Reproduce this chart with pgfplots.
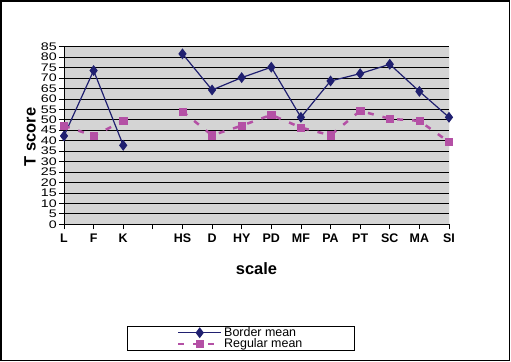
\documentclass[border=0pt]{standalone}
\usepackage{fontspec}
\setmainfont{Liberation Sans}
\usepackage{pgfplots}
\pgfplotsset{compat=1.18}
\definecolor{bord}{RGB}{32,32,112}
\definecolor{regm}{RGB}{180,80,165}
\definecolor{plotbg}{RGB}{212,212,212}
\begin{document}
\begin{tikzpicture}
\useasboundingbox (0bp,0bp) rectangle (511bp,362bp);
\draw[line width=1.5bp] (1bp,1.5bp) rectangle (509.5bp,361bp);
\begin{axis}[
  at={(64bp,137.7bp)}, anchor=south west,
  scale only axis, width=385bp, height=177.6bp,
  xmin=0, xmax=13, ymin=0, ymax=85,
  unbounded coords=jump,
  axis background/.style={fill=plotbg},
  axis x line*=bottom, axis y line*=left,
  x axis line style={-, black, line width=0.9bp},
  y axis line style={-, black, line width=0.9bp},
  xtick={0,...,13},
  xticklabels={L,F,K,,HS,D,HY,PD,MF,PA,PT,SC,MA,SI},
  ytick={0,5,...,85},
  yticklabel={\scalebox{1.3}[1]{\pgfmathprintnumber{\tick}}},
  ymajorgrids, major grid style={black, line width=0.8bp},
  tick align=outside, major tick length=5bp,
  tick style={black, line width=0.8bp},
  /pgf/number format/assume math mode=true,
  x tick label style={font=\bfseries\fontsize{12.5}{13}\selectfont, yshift=-1bp},
  y tick label style={font=\fontsize{11}{11}\selectfont, inner xsep=1bp, inner ysep=0bp, xshift=-1bp},
  xlabel={scale},
  xlabel style={font=\bfseries\fontsize{16.5}{16}\selectfont, at={(axis description cs:0.5,-0.252)}, anchor=center},
  ylabel={T score},
  ylabel style={font=\bfseries\fontsize{16.5}{16}\selectfont, at={(axis description cs:-0.088,0.492)}, anchor=center, rotate=0},
  legend style={at={(rel axis cs:0.1636,-0.5726)}, anchor=north west, draw=black, fill=white,
    font=\fontsize{12.5}{12.5}\selectfont, inner xsep=50bp, inner ysep=1bp, row sep=0bp,
    nodes={inner ysep=0.3bp}},
  legend cell align=left,
  legend image code/.code={\draw[mark repeat=2,mark phase=2] plot coordinates {(0cm,0cm)(0.75cm,0cm)(1.5cm,0cm)};},
]
\addplot[bord, line width=1.2bp, mark=diamond*, mark size=4.5bp, mark options={solid, fill=bord}]
coordinates {(0,42.3) (1,73.6) (2,37.8) (3,nan) (4,81.6) (5,64.3) (6,70.2) (7,75.2) (8,51.2) (9,68.6) (10,72.1) (11,76.6) (12,63.6) (13,51.2)};
\addlegendentry{Border mean}
\addplot[regm, line width=2.5bp, dash pattern=on 6bp off 9bp, mark=square*, mark size=3.6bp, mark options={solid, fill=regm, line width=0.5bp}]
coordinates {(0,47.2) (1,42.3) (2,49.5) (3,nan) (4,54.0) (5,42.6) (6,47.2) (7,52.4) (8,46.3) (9,42.6) (10,54.3) (11,50.5) (12,49.5) (13,39.4)};
\addlegendentry{Regular mean}
\draw[gray!60, line width=0.8bp] (rel axis cs:1,0) -- (rel axis cs:1,1);
\end{axis}
\end{tikzpicture}
\end{document}
